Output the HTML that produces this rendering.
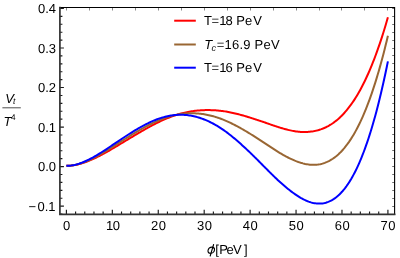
<!DOCTYPE html>
<html><head><meta charset="utf-8"><title>plot</title>
<style>html,body{margin:0;padding:0;background:#fff;overflow:hidden}body{width:400px;height:258px;position:relative;font-family:"Liberation Sans",sans-serif}</style></head>
<body>
<svg width="400" height="258" viewBox="0 0 400 258" style="position:absolute;left:0;top:0;will-change:transform">
<rect width="400" height="258" fill="#fff"/>
<polyline points="66.40,165.82 67.55,165.81 68.70,165.77 69.84,165.69 70.99,165.59 72.14,165.46 73.29,165.31 74.44,165.12 75.59,164.91 76.73,164.68 77.88,164.42 79.03,164.13 80.18,163.83 81.33,163.50 82.48,163.15 83.62,162.78 84.77,162.39 85.92,161.98 87.07,161.55 88.22,161.10 89.37,160.64 90.51,160.16 91.66,159.66 92.81,159.15 93.96,158.62 95.11,158.08 96.25,157.53 97.40,156.96 98.55,156.39 99.70,155.80 100.85,155.20 102.00,154.59 103.14,153.97 104.29,153.34 105.44,152.71 106.59,152.06 107.74,151.42 108.89,150.76 110.03,150.10 111.18,149.43 112.33,148.76 113.48,148.09 114.63,147.41 115.77,146.73 116.92,146.04 118.07,145.35 119.22,144.66 120.37,143.97 121.52,143.27 122.66,142.58 123.81,141.88 124.96,141.19 126.11,140.49 127.26,139.80 128.41,139.10 129.55,138.41 130.70,137.72 131.85,137.03 133.00,136.34 134.15,135.65 135.30,134.97 136.44,134.29 137.59,133.61 138.74,132.94 139.89,132.27 141.04,131.61 142.18,130.94 143.33,130.28 144.48,129.62 145.63,128.97 146.78,128.32 147.93,127.68 149.07,127.05 150.22,126.42 151.37,125.80 152.52,125.19 153.67,124.59 154.82,124.01 155.96,123.43 157.11,122.86 158.26,122.30 159.41,121.74 160.56,121.20 161.70,120.67 162.85,120.15 164.00,119.64 165.15,119.14 166.30,118.65 167.45,118.17 168.59,117.71 169.74,117.26 170.89,116.82 172.04,116.40 173.19,115.98 174.34,115.59 175.48,115.20 176.63,114.83 177.78,114.48 178.93,114.14 180.08,113.81 181.23,113.50 182.37,113.20 183.52,112.92 184.67,112.65 185.82,112.39 186.97,112.15 188.11,111.92 189.26,111.71 190.41,111.51 191.56,111.32 192.71,111.15 193.86,110.99 195.00,110.84 196.15,110.71 197.30,110.59 198.45,110.48 199.60,110.39 200.75,110.31 201.89,110.24 203.04,110.19 204.19,110.15 205.34,110.12 206.49,110.10 207.63,110.10 208.78,110.11 209.93,110.12 211.08,110.15 212.23,110.19 213.38,110.23 214.52,110.29 215.67,110.36 216.82,110.44 217.97,110.53 219.12,110.64 220.27,110.76 221.41,110.89 222.56,111.04 223.71,111.20 224.86,111.38 226.01,111.57 227.16,111.77 228.30,111.99 229.45,112.21 230.60,112.44 231.75,112.68 232.90,112.93 234.04,113.19 235.19,113.46 236.34,113.74 237.49,114.03 238.64,114.32 239.79,114.62 240.93,114.93 242.08,115.25 243.23,115.57 244.38,115.90 245.53,116.23 246.68,116.58 247.82,116.92 248.97,117.27 250.12,117.63 251.27,117.99 252.42,118.35 253.56,118.72 254.71,119.09 255.86,119.47 257.01,119.84 258.16,120.22 259.31,120.60 260.45,120.98 261.60,121.37 262.75,121.76 263.90,122.16 265.05,122.56 266.20,122.97 267.34,123.37 268.49,123.78 269.64,124.18 270.79,124.58 271.94,124.99 273.09,125.38 274.23,125.78 275.38,126.16 276.53,126.54 277.68,126.91 278.83,127.27 279.97,127.63 281.12,127.97 282.27,128.31 283.42,128.63 284.57,128.96 285.72,129.27 286.86,129.57 288.01,129.86 289.16,130.13 290.31,130.39 291.46,130.64 292.61,130.87 293.75,131.08 294.90,131.27 296.05,131.44 297.20,131.59 298.35,131.72 299.49,131.82 300.64,131.90 301.79,131.96 302.94,131.99 304.09,132.01 305.24,132.00 306.38,131.97 307.53,131.92 308.68,131.84 309.83,131.74 310.98,131.61 312.13,131.46 313.27,131.28 314.42,131.07 315.57,130.83 316.72,130.56 317.87,130.26 319.01,129.93 320.16,129.57 321.31,129.17 322.46,128.74 323.61,128.28 324.76,127.78 325.90,127.25 327.05,126.67 328.20,126.06 329.35,125.41 330.50,124.72 331.65,123.99 332.79,123.22 333.94,122.40 335.09,121.54 336.24,120.64 337.39,119.69 338.54,118.69 339.68,117.65 340.83,116.56 341.98,115.42 343.13,114.23 344.28,112.98 345.42,111.69 346.57,110.34 347.72,108.94 348.87,107.48 350.02,105.97 351.17,104.40 352.31,102.77 353.46,101.08 354.61,99.33 355.76,97.52 356.91,95.65 358.06,93.71 359.20,91.71 360.35,89.64 361.50,87.51 362.65,85.30 363.80,83.03 364.95,80.69 366.09,78.28 367.24,75.79 368.39,73.23 369.54,70.60 370.69,67.89 371.83,65.10 372.98,62.23 374.13,59.29 375.28,56.26 376.43,53.15 377.58,49.96 378.72,46.69 379.87,43.32 381.02,39.88 382.17,36.34 383.32,32.72 384.47,29.00 385.61,25.19 386.76,21.29 387.91,17.30" fill="none" stroke="#ff0000" stroke-width="2.0" stroke-linejoin="round" stroke-linecap="butt"/>
<polyline points="66.40,165.82 67.55,165.81 68.70,165.76 69.84,165.67 70.99,165.56 72.14,165.41 73.29,165.23 74.44,165.03 75.59,164.79 76.73,164.52 77.88,164.23 79.03,163.91 80.18,163.57 81.33,163.20 82.48,162.81 83.62,162.39 84.77,161.95 85.92,161.50 87.07,161.02 88.22,160.52 89.37,160.00 90.51,159.47 91.66,158.92 92.81,158.35 93.96,157.77 95.11,157.17 96.25,156.56 97.40,155.94 98.55,155.30 99.70,154.66 100.85,154.00 102.00,153.33 103.14,152.66 104.29,151.97 105.44,151.28 106.59,150.59 107.74,149.88 108.89,149.17 110.03,148.46 111.18,147.74 112.33,147.02 113.48,146.30 114.63,145.57 115.77,144.84 116.92,144.11 118.07,143.38 119.22,142.65 120.37,141.92 121.52,141.19 122.66,140.46 123.81,139.73 124.96,139.01 126.11,138.28 127.26,137.56 128.41,136.85 129.55,136.13 130.70,135.42 131.85,134.72 133.00,134.02 134.15,133.32 135.30,132.63 136.44,131.95 137.59,131.28 138.74,130.61 139.89,129.95 141.04,129.29 142.18,128.64 143.33,128.00 144.48,127.36 145.63,126.73 146.78,126.11 147.93,125.50 149.07,124.90 150.22,124.32 151.37,123.74 152.52,123.18 153.67,122.63 154.82,122.09 155.96,121.57 157.11,121.07 158.26,120.58 159.41,120.10 160.56,119.63 161.70,119.18 162.85,118.75 164.00,118.33 165.15,117.92 166.30,117.53 167.45,117.16 168.59,116.80 169.74,116.46 170.89,116.13 172.04,115.83 173.19,115.53 174.34,115.26 175.48,115.00 176.63,114.76 177.78,114.54 178.93,114.33 180.08,114.15 181.23,113.98 182.37,113.82 183.52,113.69 184.67,113.57 185.82,113.47 186.97,113.39 188.11,113.33 189.26,113.28 190.41,113.25 191.56,113.24 192.71,113.25 193.86,113.28 195.00,113.32 196.15,113.38 197.30,113.46 198.45,113.55 199.60,113.67 200.75,113.80 201.89,113.95 203.04,114.11 204.19,114.29 205.34,114.49 206.49,114.70 207.63,114.93 208.78,115.17 209.93,115.44 211.08,115.72 212.23,116.01 213.38,116.33 214.52,116.66 215.67,117.00 216.82,117.36 217.97,117.74 219.12,118.14 220.27,118.55 221.41,118.98 222.56,119.42 223.71,119.88 224.86,120.36 226.01,120.85 227.16,121.36 228.30,121.87 229.45,122.40 230.60,122.95 231.75,123.50 232.90,124.07 234.04,124.65 235.19,125.24 236.34,125.84 237.49,126.45 238.64,127.08 239.79,127.71 240.93,128.35 242.08,129.00 243.23,129.66 244.38,130.33 245.53,131.00 246.68,131.68 247.82,132.37 248.97,133.07 250.12,133.77 251.27,134.48 252.42,135.19 253.56,135.91 254.71,136.63 255.86,137.36 257.01,138.09 258.16,138.82 259.31,139.56 260.45,140.31 261.60,141.06 262.75,141.82 263.90,142.58 265.05,143.35 266.20,144.12 267.34,144.89 268.49,145.66 269.64,146.43 270.79,147.19 271.94,147.95 273.09,148.70 274.23,149.45 275.38,150.19 276.53,150.91 277.68,151.63 278.83,152.33 279.97,153.02 281.12,153.70 282.27,154.36 283.42,155.02 284.57,155.66 285.72,156.28 286.86,156.89 288.01,157.49 289.16,158.06 290.31,158.62 291.46,159.17 292.61,159.69 293.75,160.19 294.90,160.68 296.05,161.14 297.20,161.57 298.35,161.99 299.49,162.37 300.64,162.74 301.79,163.07 302.94,163.39 304.09,163.67 305.24,163.93 306.38,164.16 307.53,164.36 308.68,164.52 309.83,164.66 310.98,164.75 312.13,164.82 313.27,164.85 314.42,164.83 315.57,164.78 316.72,164.69 317.87,164.56 319.01,164.39 320.16,164.17 321.31,163.91 322.46,163.60 323.61,163.25 324.76,162.86 325.90,162.41 327.05,161.93 328.20,161.39 329.35,160.80 330.50,160.16 331.65,159.47 332.79,158.73 333.94,157.93 335.09,157.08 336.24,156.17 337.39,155.20 338.54,154.18 339.68,153.09 340.83,151.94 341.98,150.73 343.13,149.46 344.28,148.12 345.42,146.71 346.57,145.24 347.72,143.70 348.87,142.09 350.02,140.40 351.17,138.65 352.31,136.82 353.46,134.91 354.61,132.93 355.76,130.87 356.91,128.73 358.06,126.51 359.20,124.21 360.35,121.82 361.50,119.35 362.65,116.80 363.80,114.15 364.95,111.42 366.09,108.60 367.24,105.68 368.39,102.67 369.54,99.57 370.69,96.37 371.83,93.07 372.98,89.68 374.13,86.18 375.28,82.58 376.43,78.88 377.58,75.07 378.72,71.16 379.87,67.14 381.02,63.00 382.17,58.76 383.32,54.41 384.47,49.94 385.61,45.35 386.76,40.65 387.91,35.82" fill="none" stroke="#996633" stroke-width="2.0" stroke-linejoin="round" stroke-linecap="butt"/>
<polyline points="66.40,165.82 67.55,165.80 68.70,165.75 69.84,165.66 70.99,165.53 72.14,165.36 73.29,165.16 74.44,164.93 75.59,164.66 76.73,164.36 77.88,164.04 79.03,163.68 80.18,163.29 81.33,162.88 82.48,162.45 83.62,161.98 84.77,161.50 85.92,160.99 87.07,160.46 88.22,159.91 89.37,159.34 90.51,158.75 91.66,158.14 92.81,157.51 93.96,156.87 95.11,156.22 96.25,155.55 97.40,154.86 98.55,154.17 99.70,153.46 100.85,152.74 102.00,152.02 103.14,151.28 104.29,150.54 105.44,149.79 106.59,149.04 107.74,148.28 108.89,147.51 110.03,146.74 111.18,145.97 112.33,145.20 113.48,144.43 114.63,143.65 115.77,142.88 116.92,142.10 118.07,141.33 119.22,140.55 120.37,139.78 121.52,139.02 122.66,138.25 123.81,137.49 124.96,136.74 126.11,135.99 127.26,135.24 128.41,134.50 129.55,133.77 130.70,133.04 131.85,132.33 133.00,131.62 134.15,130.92 135.30,130.22 136.44,129.54 137.59,128.87 138.74,128.21 139.89,127.56 141.04,126.92 142.18,126.28 143.33,125.66 144.48,125.05 145.63,124.45 146.78,123.87 147.93,123.29 149.07,122.74 150.22,122.19 151.37,121.67 152.52,121.16 153.67,120.67 154.82,120.20 155.96,119.74 157.11,119.31 158.26,118.89 159.41,118.49 160.56,118.11 161.70,117.75 162.85,117.41 164.00,117.09 165.15,116.78 166.30,116.50 167.45,116.24 168.59,116.00 169.74,115.78 170.89,115.58 172.04,115.40 173.19,115.25 174.34,115.11 175.48,115.00 176.63,114.91 177.78,114.84 178.93,114.80 180.08,114.77 181.23,114.77 182.37,114.79 183.52,114.84 184.67,114.90 185.82,114.99 186.97,115.10 188.11,115.24 189.26,115.39 190.41,115.57 191.56,115.77 192.71,116.00 193.86,116.25 195.00,116.51 196.15,116.81 197.30,117.12 198.45,117.46 199.60,117.82 200.75,118.20 201.89,118.60 203.04,119.02 204.19,119.47 205.34,119.94 206.49,120.42 207.63,120.93 208.78,121.45 209.93,122.00 211.08,122.56 212.23,123.15 213.38,123.75 214.52,124.38 215.67,125.03 216.82,125.69 217.97,126.38 219.12,127.09 220.27,127.83 221.41,128.58 222.56,129.36 223.71,130.15 224.86,130.97 226.01,131.81 227.16,132.67 228.30,133.54 229.45,134.43 230.60,135.34 231.75,136.26 232.90,137.19 234.04,138.14 235.19,139.10 236.34,140.08 237.49,141.06 238.64,142.06 239.79,143.08 240.93,144.10 242.08,145.14 243.23,146.18 244.38,147.24 245.53,148.30 246.68,149.37 247.82,150.46 248.97,151.54 250.12,152.64 251.27,153.75 252.42,154.86 253.56,155.98 254.71,157.12 255.86,158.25 257.01,159.40 258.16,160.55 259.31,161.70 260.45,162.86 261.60,164.02 262.75,165.18 263.90,166.34 265.05,167.50 266.20,168.66 267.34,169.81 268.49,170.96 269.64,172.11 270.79,173.25 271.94,174.38 273.09,175.51 274.23,176.62 275.38,177.73 276.53,178.82 277.68,179.90 278.83,180.96 279.97,182.01 281.12,183.05 282.27,184.07 283.42,185.07 284.57,186.06 285.72,187.03 286.86,187.98 288.01,188.91 289.16,189.83 290.31,190.72 291.46,191.60 292.61,192.45 293.75,193.29 294.90,194.10 296.05,194.89 297.20,195.66 298.35,196.40 299.49,197.11 300.64,197.80 301.79,198.45 302.94,199.07 304.09,199.66 305.24,200.21 306.38,200.72 307.53,201.20 308.68,201.63 309.83,202.03 310.98,202.38 312.13,202.69 313.27,202.95 314.42,203.18 315.57,203.35 316.72,203.48 317.87,203.57 319.01,203.60 320.16,203.58 321.31,203.51 322.46,203.39 323.61,203.21 324.76,202.98 325.90,202.68 327.05,202.33 328.20,201.92 329.35,201.44 330.50,200.90 331.65,200.30 332.79,199.63 333.94,198.90 335.09,198.10 336.24,197.23 337.39,196.29 338.54,195.27 339.68,194.19 340.83,193.03 341.98,191.79 343.13,190.48 344.28,189.08 345.42,187.61 346.57,186.05 347.72,184.41 348.87,182.68 350.02,180.87 351.17,178.97 352.31,176.97 353.46,174.89 354.61,172.71 355.76,170.44 356.91,168.07 358.06,165.61 359.20,163.04 360.35,160.37 361.50,157.60 362.65,154.72 363.80,151.74 364.95,148.65 366.09,145.45 367.24,142.13 368.39,138.71 369.54,135.16 370.69,131.51 371.83,127.73 372.98,123.83 374.13,119.81 375.28,115.66 376.43,111.39 377.58,106.99 378.72,102.46 379.87,97.80 381.02,93.01 382.17,88.08 383.32,83.02 384.47,77.81 385.61,72.47 386.76,66.98 387.91,61.34" fill="none" stroke="#0000ff" stroke-width="2.0" stroke-linejoin="round" stroke-linecap="butt"/>
<path d="M66.5,7.5 v3.0 M89.5,7.5 v3.0 M112.5,7.5 v3.0 M135.5,7.5 v3.0 M158.5,7.5 v3.0 M181.5,7.5 v3.0 M204.5,7.5 v3.0 M227.5,7.5 v3.0 M250.5,7.5 v3.0 M273.5,7.5 v3.0 M296.5,7.5 v3.0 M319.5,7.5 v3.0 M341.5,7.5 v3.0 M364.5,7.5 v3.0 M387.5,7.5 v3.0" stroke="#8a8a8a" stroke-width="1" fill="none"/>
<path d="M394.6,214.5 h-2.4 M394.6,206.5 h-2.4 M394.6,198.5 h-2.4 M394.6,190.5 h-2.4 M394.6,182.5 h-2.4 M394.6,174.5 h-2.4 M394.6,166.5 h-2.4 M394.6,158.5 h-2.4 M394.6,150.5 h-2.4 M394.6,142.5 h-2.4 M394.6,134.5 h-2.4 M394.6,127.5 h-2.4 M394.6,119.5 h-2.4 M394.6,111.5 h-2.4 M394.6,103.5 h-2.4 M394.6,95.5 h-2.4 M394.6,87.5 h-2.4 M394.6,79.5 h-2.4 M394.6,71.5 h-2.4 M394.6,63.5 h-2.4 M394.6,55.5 h-2.4 M394.6,48.5 h-2.4 M394.6,40.5 h-2.4 M394.6,32.5 h-2.4 M394.6,24.5 h-2.4 M394.6,16.5 h-2.4 M394.6,8.5 h-2.4" stroke="#707070" stroke-width="1" fill="none"/>
<path d="M59.9,214.04 h2.5 M59.9,206.13 h4.0 M59.9,198.22 h2.5 M59.9,190.32 h2.5 M59.9,182.41 h2.5 M59.9,174.51 h2.5 M59.9,166.60 h4.0 M59.9,158.69 h2.5 M59.9,150.79 h2.5 M59.9,142.88 h2.5 M59.9,134.98 h2.5 M59.9,127.07 h4.0 M59.9,119.16 h2.5 M59.9,111.26 h2.5 M59.9,103.35 h2.5 M59.9,95.45 h2.5 M59.9,87.54 h4.0 M59.9,79.63 h2.5 M59.9,71.73 h2.5 M59.9,63.82 h2.5 M59.9,55.92 h2.5 M59.9,48.01 h4.0 M59.9,40.10 h2.5 M59.9,32.20 h2.5 M59.9,24.29 h2.5 M59.9,16.39 h2.5 M59.9,8.48 h4.0 M66.40,214.4 v-4.7 M75.59,214.4 v-3.0 M84.77,214.4 v-3.0 M93.96,214.4 v-3.0 M103.14,214.4 v-3.0 M112.33,214.4 v-4.7 M121.52,214.4 v-3.0 M130.70,214.4 v-3.0 M139.89,214.4 v-3.0 M149.07,214.4 v-3.0 M158.26,214.4 v-4.7 M167.45,214.4 v-3.0 M176.63,214.4 v-3.0 M185.82,214.4 v-3.0 M195.00,214.4 v-3.0 M204.19,214.4 v-4.7 M213.38,214.4 v-3.0 M222.56,214.4 v-3.0 M231.75,214.4 v-3.0 M240.93,214.4 v-3.0 M250.12,214.4 v-4.7 M259.31,214.4 v-3.0 M268.49,214.4 v-3.0 M277.68,214.4 v-3.0 M286.86,214.4 v-3.0 M296.05,214.4 v-4.7 M305.24,214.4 v-3.0 M314.42,214.4 v-3.0 M323.61,214.4 v-3.0 M332.79,214.4 v-3.0 M341.98,214.4 v-4.7 M351.17,214.4 v-3.0 M360.35,214.4 v-3.0 M369.54,214.4 v-3.0 M378.72,214.4 v-3.0 M387.91,214.4 v-4.7" stroke="#1a1a1a" stroke-width="1.15" fill="none"/>
<path d="M59.9,7.5 H394.6 V214.4" stroke="#000" stroke-width="1.1" fill="none" stroke-linecap="square"/>
<path d="M59.9,7.5 V214.4 H394.6" stroke="#333" stroke-width="1.7" fill="none" stroke-linecap="square"/>
<g style="font-family:'Liberation Sans',sans-serif" font-size="13" fill="#000" text-rendering="geometricPrecision">
<text x="56.0" y="13.28" text-anchor="end">0.4</text>
<text x="56.0" y="52.81" text-anchor="end">0.3</text>
<text x="56.0" y="92.34" text-anchor="end">0.2</text>
<text x="56.0" y="131.87" text-anchor="end">0.1</text>
<text x="56.0" y="171.40" text-anchor="end">0.0</text>
<text x="28.5 37.5 44.75 48.35" y="210.93">−0.1</text>
<text x="66.60" y="230.3" text-anchor="middle">0</text>
<text x="106.03 112.78" y="230.4">10</text>
<text x="150.96 158.71" y="230.4">20</text>
<text x="196.89 204.64" y="230.4">30</text>
<text x="242.82 250.57" y="230.4">40</text>
<text x="288.75 296.50" y="230.4">50</text>
<text x="334.68 342.43" y="230.4">60</text>
<text x="380.61 388.36" y="230.4">70</text>
<path d="M174.2,20.7 H195.8" stroke="#ff0000" stroke-width="2.0"/>
<path d="M174.2,44.5 H195.8" stroke="#996633" stroke-width="2.0"/>
<path d="M174.2,67.7 H195.8" stroke="#0000ff" stroke-width="2.0"/>
<text font-size="13" x="203.9 211.5 219.3 225.5 232.5 236.3 245.0 253.2" y="25.3">T=18 PeV</text>
<text font-size="13" x="204.3" y="49.4" textLength="75.3" lengthAdjust="spacing"><tspan font-style="italic">T</tspan><tspan font-style="italic" font-size="9" dx="-1.0" dy="1.8">c</tspan><tspan dx="0.6" dy="-1.8">=16.9 PeV</tspan></text>
<text font-size="13" x="203.9 211.5 219.3 225.5 232.5 236.3 245.0 253.2" y="71.8">T=16 PeV</text>
<text font-size="13" x="215.2 219.35 226.4 233.0 244.1" y="253.7">[PeV]</text>
<g stroke="#000" stroke-width="1.1" fill="none" stroke-linecap="round"><ellipse cx="0" cy="0" rx="3.2" ry="3.05" transform="translate(211.25,250.15) skewX(-9)"/><path d="M213.6,244.5 L210.2,256.0"/></g>
<text x="5.2" y="102.8" font-style="italic">V<tspan font-size="8.5" dx="-0.8" dy="1.3">t</tspan></text>
<text x="3.4" y="125.7" font-style="italic">T<tspan font-size="8.2" dx="-0.3" dy="-5.3" font-style="normal">4</tspan></text>
</g>
<path d="M2.4,107.8 H20.8" stroke="#222" stroke-width="0.8"/>
</svg>
</body></html>
